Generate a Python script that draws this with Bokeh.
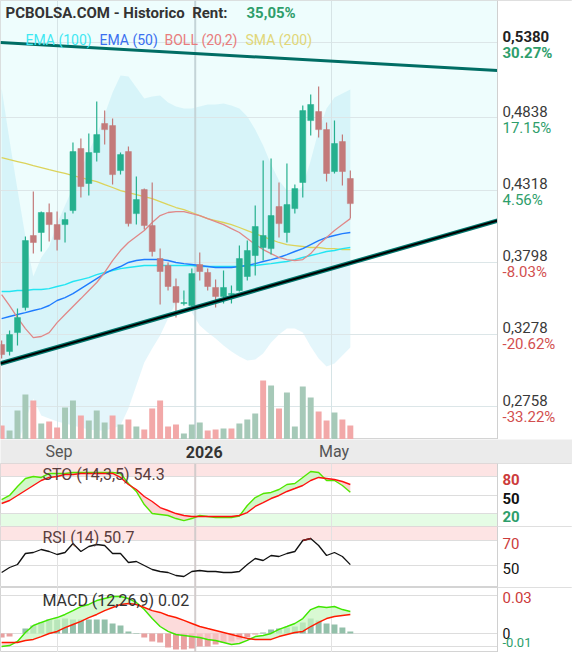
import numpy as np
import pandas as pd
from bokeh.plotting import figure
from bokeh.layouts import column
from bokeh.models import ColumnDataSource, Range1d, FixedTicker, Grid, Label, Span, BoxAnnotation
from bokeh.core.properties import value
from bokeh.embed import file_html
from bokeh.resources import INLINE

FONT = "Roboto"

# ---------------- data (weekly candles) ----------------
first_week = "2025-07-14"
opens = [0.3205, 0.3155, 0.3291, 0.3471, 0.3990, 0.4012, 0.4156, 0.4069, 0.4069, 0.4170,
         0.4617, 0.4365, 0.4588, 0.4797, 0.4782, 0.4458, 0.4595, 0.4148, 0.4321, 0.4062,
         0.3824, 0.3774, 0.3623, 0.3500, 0.3486, 0.3781, 0.3724, 0.3616, 0.3551, 0.3565,
         0.3594, 0.3695, 0.3846, 0.3904, 0.3896, 0.4199, 0.4012, 0.4184, 0.4372, 0.4818,
         0.4883, 0.4753, 0.4451, 0.4667, 0.4401]
highs = [0.3234, 0.3306, 0.3464, 0.3983, 0.4307, 0.4163, 0.4221, 0.4163, 0.4156, 0.4660,
         0.4689, 0.4725, 0.4955, 0.4890, 0.4833, 0.4588, 0.4631, 0.4415, 0.4328, 0.4372,
         0.3896, 0.3796, 0.3680, 0.3594, 0.3752, 0.3868, 0.3752, 0.3673, 0.3738, 0.3630,
         0.3918, 0.3954, 0.4206, 0.4530, 0.4545, 0.4372, 0.4509, 0.4357, 0.4926, 0.5006,
         0.5063, 0.4804, 0.4818, 0.4717, 0.4458]
lows = [0.3104, 0.3126, 0.3198, 0.3450, 0.3860, 0.3875, 0.3947, 0.3882, 0.3940, 0.4148,
        0.4264, 0.4278, 0.4523, 0.4645, 0.4357, 0.4429, 0.4055, 0.4069, 0.4033, 0.3839,
        0.3493, 0.3594, 0.3399, 0.3486, 0.3479, 0.3666, 0.3594, 0.3471, 0.3500, 0.3500,
        0.3587, 0.3666, 0.3702, 0.3810, 0.3853, 0.3976, 0.3940, 0.4148, 0.4264, 0.4710,
        0.4696, 0.4379, 0.4437, 0.4350, 0.4112]
closes = [0.3133, 0.3277, 0.3399, 0.3954, 0.3940, 0.4156, 0.4069, 0.3961, 0.4105, 0.4595,
          0.4343, 0.4588, 0.4717, 0.4753, 0.4429, 0.4573, 0.4076, 0.4249, 0.4062, 0.3875,
          0.3731, 0.3623, 0.3507, 0.3507, 0.3716, 0.3731, 0.3623, 0.3551, 0.3616, 0.3572,
          0.3824, 0.3882, 0.4055, 0.3990, 0.4134, 0.4076, 0.4213, 0.4328, 0.4890, 0.4934,
          0.4753, 0.4437, 0.4653, 0.4451, 0.4220]
volume_k = [350, 225, 725, 1125, 975, 400, 450, 300, 800, 975, 600, 475, 725, 425, 600,
            375, 500, 325, 250, 775, 975, 325, 375, 150, 375, 425, 225, 250, 275, 275,
            400, 500, 650, 1475, 1350, 775, 1175, 325, 1325, 1050, 700, 475, 675, 500, 350]
volume_dir = list("DUUUDUDDUUDUUUDUDUDDDDDUUUDDUDUUUDUDUUUUDDUDD")

sma200 = [0.4552, 0.4537, 0.4523, 0.4509, 0.4494, 0.4480, 0.4465, 0.4451, 0.4437, 0.4422,
          0.4408, 0.4393, 0.4379, 0.4357, 0.4336, 0.4314, 0.4300, 0.4285, 0.4271, 0.4256,
          0.4235, 0.4213, 0.4192, 0.4177, 0.4156, 0.4134, 0.4112, 0.4098, 0.4084, 0.4069,
          0.4048, 0.4026, 0.4004, 0.3983, 0.3961, 0.3940, 0.3925, 0.3918, 0.3911, 0.3904,
          0.3904, 0.3896, 0.3896, 0.3889, 0.3889]
ema100 = [0.3587, 0.3587, 0.3594, 0.3594, 0.3601, 0.3601, 0.3608, 0.3623, 0.3637, 0.3659,
          0.3673, 0.3687, 0.3709, 0.3724, 0.3738, 0.3752, 0.3760, 0.3767, 0.3774, 0.3774,
          0.3774, 0.3774, 0.3774, 0.3774, 0.3774, 0.3767, 0.3767, 0.3767, 0.3767, 0.3767,
          0.3767, 0.3774, 0.3774, 0.3781, 0.3788, 0.3796, 0.3803, 0.3817, 0.3832, 0.3846,
          0.3860, 0.3875, 0.3882, 0.3896, 0.3904]
ema50 = [0.3392, 0.3407, 0.3421, 0.3435, 0.3450, 0.3464, 0.3486, 0.3522, 0.3543, 0.3572,
         0.3608, 0.3644, 0.3680, 0.3716, 0.3745, 0.3767, 0.3796, 0.3810, 0.3817, 0.3817,
         0.3817, 0.3810, 0.3796, 0.3788, 0.3781, 0.3774, 0.3767, 0.3760, 0.3760, 0.3760,
         0.3767, 0.3774, 0.3788, 0.3803, 0.3817, 0.3832, 0.3853, 0.3875, 0.3896, 0.3925,
         0.3954, 0.3976, 0.3990, 0.4004, 0.4012]
boll_mid = [0.3565, 0.3486, 0.3399, 0.3320, 0.3255, 0.3263, 0.3291, 0.3363, 0.3421, 0.3479,
            0.3536, 0.3594, 0.3652, 0.3724, 0.3810, 0.3882, 0.3940, 0.3983, 0.4026, 0.4084,
            0.4134, 0.4156, 0.4163, 0.4163, 0.4148, 0.4134, 0.4112, 0.4091, 0.4069, 0.4040,
            0.4012, 0.3968, 0.3925, 0.3889, 0.3860, 0.3832, 0.3817, 0.3810, 0.3817, 0.3860,
            0.3925, 0.3976, 0.4026, 0.4069, 0.4112]
boll_up = [0.5049, 0.4674, 0.4321, 0.3983, 0.3695, 0.3832, 0.3911, 0.4076, 0.4206, 0.4336,
           0.4465, 0.4595, 0.4717, 0.4861, 0.5020, 0.5142, 0.5135, 0.5056, 0.4977, 0.4991,
           0.4998, 0.4948, 0.4919, 0.4905, 0.4905, 0.4919, 0.4934, 0.4934, 0.4941, 0.4926,
           0.4905, 0.4847, 0.4753, 0.4638, 0.4501, 0.4386, 0.4314, 0.4300, 0.4343, 0.4530,
           0.4746, 0.4905, 0.4984, 0.5013, 0.5042]
boll_lo = [0.2081, 0.2297, 0.2478, 0.2658, 0.2816, 0.2694, 0.2672, 0.2650, 0.2636, 0.2622,
           0.2607, 0.2593, 0.2586, 0.2586, 0.2600, 0.2622, 0.2744, 0.2910, 0.3075, 0.3176,
           0.3270, 0.3392, 0.3507, 0.3536, 0.3435, 0.3342, 0.3291, 0.3248, 0.3198, 0.3155,
           0.3119, 0.3090, 0.3097, 0.3140, 0.3219, 0.3277, 0.3320, 0.3320, 0.3291, 0.3191,
           0.3104, 0.3046, 0.3068, 0.3126, 0.3183]

trend_dates = ["2025-07-13", "2026-09-25"]
trend_upper = [0.5380, 0.5178]
trend_lower = [0.3068, 0.4098]

sto_k = [42.7, 49.2, 63.8, 76.8, 80.0, 78.4, 84.9, 84.9, 84.9, 86.5, 86.5, 86.5, 86.5, 86.5,
         86.5, 84.9, 68.6, 55.7, 34.6, 20.0, 18.4, 16.8, 11.9, 8.6, 11.9, 16.8, 15.1, 13.5,
         13.5, 13.5, 16.0, 33.0, 45.9, 52.4, 54.1, 58.9, 67.0, 68.6, 78.4, 88.1, 86.5, 73.5,
         73.5, 65.4, 54.3]
sto_d = [36.2, 41.1, 49.2, 57.3, 65.4, 73.5, 78.4, 80.0, 83.2, 83.2, 84.9, 84.9, 84.9, 84.9,
         84.9, 78.4, 67.0, 58.9, 47.6, 39.5, 29.7, 24.9, 20.0, 16.8, 15.1, 15.1, 15.1, 15.1,
         15.1, 15.1, 16.8, 21.6, 31.4, 37.8, 44.3, 49.2, 55.7, 60.5, 65.4, 73.5, 78.4, 76.8,
         75.1, 71.9, 67.0]
rsi14 = [44.4, 48.4, 50.8, 59.6, 60.4, 62.8, 61.2, 58.8, 60.4, 67.6, 61.2, 65.2, 66.8, 66.0,
         59.6, 59.6, 52.4, 53.2, 50.0, 46.8, 45.2, 44.4, 42.0, 41.2, 45.2, 46.0, 45.2, 45.2,
         44.4, 44.4, 45.2, 50.8, 55.6, 54.0, 58.0, 57.2, 59.6, 61.2, 70.0, 71.6, 66.0, 58.0,
         60.4, 57.2, 50.7]
macd_line = [-0.0103, -0.0095, -0.0063, 0.0008, 0.0063, 0.0087, 0.0110, 0.0126, 0.0150, 0.0181,
             0.0213, 0.0229, 0.0260, 0.0276, 0.0292, 0.0292, 0.0276, 0.0245, 0.0189, 0.0118,
             0.0055, 0.0016, -0.0008, -0.0016, -0.0024, -0.0032, -0.0047, -0.0055, -0.0071, -0.0087,
             -0.0079, -0.0055, -0.0024, -0.0016, 0.0000, 0.0032, 0.0055, 0.0079, 0.0118, 0.0189,
             0.0213, 0.0205, 0.0213, 0.0189, 0.0174]
macd_signal = [-0.0071, -0.0071, -0.0071, -0.0055, -0.0047, -0.0024, 0.0000, 0.0016, 0.0047, 0.0071,
               0.0095, 0.0126, 0.0150, 0.0181, 0.0205, 0.0229, 0.0237, 0.0229, 0.0205, 0.0181,
               0.0166, 0.0142, 0.0126, 0.0103, 0.0079, 0.0055, 0.0039, 0.0024, 0.0008, -0.0008,
               -0.0024, -0.0039, -0.0047, -0.0047, -0.0047, -0.0024, -0.0008, 0.0008, 0.0016, 0.0055,
               0.0087, 0.0118, 0.0134, 0.0142, 0.0150]
macd_hist = [-0.0032, -0.0024, 0.0000, 0.0039, 0.0063, 0.0087, 0.0110, 0.0110, 0.0118, 0.0110,
             0.0110, 0.0110, 0.0110, 0.0110, 0.0079, 0.0063, 0.0016, 0.0003, -0.0032, -0.0063,
             -0.0071, -0.0110, -0.0126, -0.0126, -0.0118, -0.0103, -0.0103, -0.0087, -0.0071, -0.0063,
             -0.0047, -0.0032, -0.0008, 0.0008, 0.0032, 0.0039, 0.0047, 0.0055, 0.0087, 0.0118,
             0.0103, 0.0079, 0.0071, 0.0047, 0.0016]

price_ticks = [0.5380, 0.4838, 0.4318, 0.3798, 0.3278, 0.2758]
price_labels = ["0,5380", "0,4838", "0,4318", "0,3798", "0,3278", "0,2758"]
pct_labels = ["30.27%", "17.15%", "4.56%", "-8.03%", "-20.62%", "-33.22%"]
x_tick_dates = ["2025-09-01", "2026-01-01", "2026-05-01"]
x_tick_labels = ["Sep", "2026", "May"]
title_text = "PCBOLSA.COM - Historico\u00a0 Rent:"
rent_text = "35,05%"
legend_items = ["EMA (100)", "EMA (50)", "BOLL (20,2)", "SMA (200)"]
sto_text = "STO (14,3,5) 54.3"
rsi_text = "RSI (14) 50.7"
macd_text = "MACD (12,26,9) 0.02"
sto_levels = [80, 50, 20]
rsi_levels = [70, 50]
macd_levels = [0.03, 0.0, -0.01]
macd_level_labels = ["0.03", "0", "-0.01"]

# ---------------- styling / layout ----------------
FW = 497          # chart area width (px)
TW = 572          # total width incl. right label column
H_MAIN, H_AX, H_STO, H_RSI, H_MACD = 439, 24, 63, 61, 65
GREEN_C, RED_C = "#25b08e", "#c37a7a"
VOL_G, VOL_R = "#a6c9b8", "#f2a8a8"
LBL_G, LBL_R = "#2e9e6b", "#d24f4f"


def ms(s):
    return pd.Timestamp(s).value / 1e6


dates = pd.date_range(first_week, periods=len(closes), freq="7D")
week_ms = 7 * 24 * 3600 * 1000.0
bar_w = 0.75 * week_ms
xt_ms = [ms(d) for d in x_tick_dates]
x0 = ms(trend_dates[0])
x1 = ms(trend_dates[1])                # right edge of the chart area
x_full = x0 + (x1 - x0) * TW / FW      # right edge incl. label column
x_range = Range1d(x0, x_full)

o = np.array(opens); c = np.array(closes)
src = ColumnDataSource(dict(
    date=dates, high=highs, low=lows,
    top=np.maximum(o, c), bottom=np.minimum(o, c),
    color=np.where(c >= o, GREEN_C, RED_C),
    vol=volume_k, vcolor=[VOL_G if d == "U" else VOL_R for d in volume_dir],
))


def base_fig(h, yr, bg="white"):
    f = figure(frame_width=TW, frame_height=h, x_range=x_range, y_range=yr,
               x_axis_type=None, y_axis_type=None, toolbar_location=None,
               output_backend="svg", min_border_left=0, min_border_right=0,
               min_border_top=0, min_border_bottom=0,
               background_fill_color=bg, border_fill_color="white",
               outline_line_color="#d4d4d4", outline_line_width=1)
    return f


def cover_right(f, yr):
    # white column that holds the value labels (hides grid lines there)
    f.quad(left=x1, right=x_full, bottom=yr.start, top=yr.end, fill_color="white", line_color=None)
    f.add_layout(Span(location=x1, dimension="height", line_color="#d0d0d0", line_width=1))


def right_texts(f, ys, texts, colors, styles, baseline="middle", dy=0, size="15px"):
    s = ColumnDataSource(dict(x=[x1] * len(ys), y=ys, t=texts, tc=colors, fs=styles))
    f.text(x="x", y="y", text="t", source=s, text_color="tc", text_font_style="fs",
           text_font=value(FONT), text_font_size=value(size), text_align="left",
           text_baseline=baseline, x_offset=5, y_offset=dy)


def ypos(rng, h, px):
    return rng.end - px * (rng.end - rng.start) / h


# ---------------- main price panel ----------------
yr_main = Range1d(0.2521, 0.5683)
p = base_fig(H_MAIN, yr_main)
p.extra_y_ranges = {"vol": Range1d(0, 10975)}

p.patch(x=[x0, x1, x1, x0], y=[trend_lower[0], trend_lower[1], yr_main.end, yr_main.end],
        fill_color="#eefdfd", line_color=None, level="image")
p.varea(x=dates, y1=boll_lo, y2=boll_up, fill_color="#9ee0f0", fill_alpha=0.28, level="image")

p.add_layout(Grid(dimension=1, ticker=FixedTicker(ticks=price_ticks),
                  grid_line_color="#dce6e8", grid_line_width=1))
p.add_layout(Grid(dimension=0, ticker=FixedTicker(ticks=xt_ms),
                  grid_line_color="#d6e4e6", grid_line_width=1))
p.add_layout(Span(location=xt_ms[1], dimension="height", line_color="#c4d4d7",
                  line_width=2, level="underlay"))
cover_right(p, yr_main)

p.vbar(x="date", top="vol", bottom=0, width=bar_w, fill_color="vcolor", line_color=None,
       y_range_name="vol", source=src)

p.line(dates, sma200, line_color="#dcd35a", line_width=1.3)
p.line(dates, ema100, line_color="#22e5f2", line_width=1.4)
p.line(dates, ema50, line_color="#1f7cff", line_width=1.4)
p.line(dates, boll_mid, line_color="#e08888", line_width=1.3)

p.segment(x0="date", y0="low", x1="date", y1="high", line_color="color", line_width=1.2, source=src)
p.vbar(x="date", top="top", bottom="bottom", width=bar_w, fill_color="color",
       line_color="color", line_width=0.5, source=src)

tx = [x0, x1]
p.line(tx, trend_upper, line_color="#006d64", line_width=3)
p.line(tx, trend_lower, line_color="#00766c", line_width=4.5)
p.line(tx, trend_lower, line_color="#000000", line_width=2)

p.add_layout(Label(x=5, x_units="screen", y=ypos(yr_main, H_MAIN, 12), text=title_text,
                   text_font=FONT, text_font_size="15px", text_font_style="bold",
                   text_color="#333333", text_baseline="middle"))
p.add_layout(Label(x=246, x_units="screen", y=ypos(yr_main, H_MAIN, 12), text=rent_text,
                   text_font=FONT, text_font_size="15px", text_font_style="bold",
                   text_color="#2e9e6b", text_baseline="middle"))
leg_x = [25, 99, 164, 245]
leg_c = ["#3fe8f2", "#3a70f0", "#e87c7c", "#e1d778"]
for lx, lt, lc in zip(leg_x, legend_items, leg_c):
    p.add_layout(Label(x=lx, x_units="screen", y=ypos(yr_main, H_MAIN, 39), text=lt,
                       text_font=FONT, text_font_size="14px", text_color=lc,
                       text_baseline="middle"))

n = len(price_ticks)
right_texts(p, price_ticks, price_labels, ["#222222"] + ["#3a3a3a"] * (n - 1),
            ["bold"] + ["normal"] * (n - 1), baseline="bottom", dy=-1)
right_texts(p, price_ticks, pct_labels,
            [LBL_R if t.startswith("-") else LBL_G for t in pct_labels],
            ["bold"] + ["normal"] * (n - 1), baseline="top", dy=1)

# ---------------- date strip ----------------
pa = base_fig(H_AX, Range1d(0, 1), bg="#ebebeb")
pa.outline_line_color = None
pa.border_fill_color = "#ebebeb"
xsrc = ColumnDataSource(dict(x=xt_ms, y=[0.5] * 3, text=x_tick_labels,
                             style=["normal", "bold", "normal"],
                             tcolor=["#555555", "#333333", "#555555"], dx=[2, 9, 3]))
pa.text(x="x", y="y", text="text", source=xsrc, text_font=value(FONT),
        text_font_size=value("16px"), text_font_style="style", text_color="tcolor",
        text_align="center", text_baseline="middle", x_offset="dx")

# ---------------- STO ----------------
yr_sto = Range1d(-1, 101)
ps = base_fig(H_STO, yr_sto)
ps.add_layout(BoxAnnotation(bottom=80, right=x1, fill_color="#fde4e4", fill_alpha=1, line_color=None, level="underlay"))
ps.add_layout(BoxAnnotation(top=20, right=x1, fill_color="#e5fce5", fill_alpha=1, line_color=None, level="underlay"))
ps.add_layout(Grid(dimension=1, ticker=FixedTicker(ticks=sto_levels), grid_line_color="#dddddd"))
ps.add_layout(Grid(dimension=0, ticker=FixedTicker(ticks=xt_ms), grid_line_color="#e2e2e2"))
ps.add_layout(Span(location=xt_ms[1], dimension="height", line_color="#d2cccc", line_width=2, level="underlay"))
cover_right(ps, yr_sto)
k = np.array(sto_k); d = np.array(sto_d)
ps.varea(x=dates, y1=d, y2=np.maximum(k, d), fill_color="#c9f7c0", fill_alpha=0.85)
ps.varea(x=dates, y1=k, y2=np.maximum(k, d), fill_color="#fbcccc", fill_alpha=0.85)
ps.line(dates, sto_k, line_color="#52e600", line_width=1.4)
ps.line(dates, sto_d, line_color="#ff1010", line_width=1.4)
ps.add_layout(Label(x=42, x_units="screen", y=ypos(yr_sto, H_STO, 11), text=sto_text,
                    text_font=FONT, text_font_size="16px", text_color="#5a3c3c",
                    text_baseline="middle"))
right_texts(ps, sto_levels, [str(v) for v in sto_levels], ["#cc3b3b", "#111111", LBL_G],
            ["bold"] * 3, dy=3)

# ---------------- RSI ----------------
yr_rsi = Range1d(32.4, 81.2)
pr = base_fig(H_RSI, yr_rsi)
pr.add_layout(BoxAnnotation(bottom=70, right=x1, fill_color="#fde4e4", fill_alpha=1, line_color=None, level="underlay"))
pr.add_layout(BoxAnnotation(top=30, right=x1, fill_color="#e5fce5", fill_alpha=1, line_color=None, level="underlay"))
pr.add_layout(Grid(dimension=1, ticker=FixedTicker(ticks=[30, 50, 70]), grid_line_color="#dddddd"))
pr.add_layout(Grid(dimension=0, ticker=FixedTicker(ticks=xt_ms), grid_line_color="#e2e2e2"))
pr.add_layout(Span(location=xt_ms[1], dimension="height", line_color="#d2cccc", line_width=2, level="underlay"))
cover_right(pr, yr_rsi)
pr.line(dates, rsi14, line_color="#111111", line_width=1.3)
rsi_hi = [v if v >= 70 else np.nan for v in rsi14]
pr.line(dates, rsi_hi, line_color="#8b1a1a", line_width=1.3)
pr.add_layout(Label(x=42, x_units="screen", y=ypos(yr_rsi, H_RSI, 11), text=rsi_text,
                    text_font=FONT, text_font_size="16px", text_color="#5a3c3c",
                    text_baseline="middle"))
right_texts(pr, rsi_levels, [str(v) for v in rsi_levels], ["#cc3b3b", "#111111"],
            ["normal"] * 2, dy=3)

# ---------------- MACD ----------------
yr_macd = Range1d(-0.0150, 0.0363)
pm = base_fig(H_MACD, yr_macd)
pm.add_layout(Grid(dimension=1, ticker=FixedTicker(ticks=macd_levels), grid_line_color="#dddddd"))
pm.add_layout(Grid(dimension=0, ticker=FixedTicker(ticks=xt_ms), grid_line_color="#e2e2e2"))
pm.add_layout(Span(location=xt_ms[1], dimension="height", line_color="#d2cccc", line_width=2, level="underlay"))
cover_right(pm, yr_macd)
hsrc = ColumnDataSource(dict(date=dates, h=macd_hist,
                             col=["#93c0aa" if v >= 0 else "#e9a0a0" for v in macd_hist]))
pm.vbar(x="date", top="h", bottom=0, width=bar_w, fill_color="col", line_color=None, source=hsrc)
m = np.array(macd_line); s = np.array(macd_signal)
pm.varea(x=dates, y1=s, y2=np.maximum(m, s), fill_color="#c9f7c0", fill_alpha=0.7)
pm.varea(x=dates, y1=m, y2=np.maximum(m, s), fill_color="#fbcccc", fill_alpha=0.7)
pm.line(dates, macd_line, line_color="#3fe600", line_width=1.4)
pm.line(dates, macd_signal, line_color="#ff1a00", line_width=1.4)
pm.add_layout(Label(x=42, x_units="screen", y=ypos(yr_macd, H_MACD, 13), text=macd_text,
                    text_font=FONT, text_font_size="16px", text_color="#333333",
                    text_baseline="middle"))
right_texts(pm, macd_levels[:1], macd_level_labels[:1], ["#cc3b3b"], ["normal"], dy=2)
right_texts(pm, macd_levels[1:2], macd_level_labels[1:2], ["#111111"], ["normal"],
            dy=0, size="14px")
right_texts(pm, macd_levels[2:], macd_level_labels[2:], [LBL_G], ["normal"], dy=-4, size="13px")

layout = column(p, pa, ps, pr, pm, spacing=0)
open("out.html", "w").write(file_html(layout, INLINE))
